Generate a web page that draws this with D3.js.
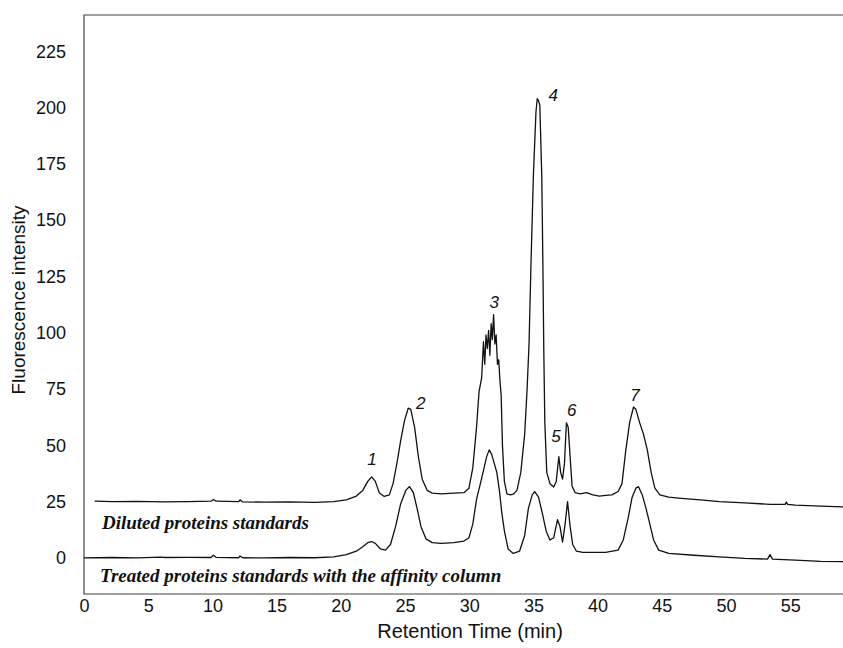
<!DOCTYPE html>
<html>
<head>
<meta charset="utf-8">
<script src="https://cdn.jsdelivr.net/npm/d3@7"></script>
<style>
  html, body { margin: 0; padding: 0; background: #fff; }
  svg { display: block; }
</style>
</head>
<body>
<svg id="chart" width="843" height="648"></svg>
<script>
// ---- data ----
const xTicks = [0, 5, 10, 15, 20, 25, 30, 35, 40, 45, 50, 55];
const yTicks = [0, 25, 50, 75, 100, 125, 150, 175, 200, 225];

// Diluted proteins standards (upper trace): retention time (min) and fluorescence
const dilutedTime = [0.83, 2.2, 4.17, 6.14, 8.11, 9.89, 10.08, 10.28, 12.05, 12.15, 12.35, 14.02, 15.99, 17.96, 19.44, 20.43, 21.21, 21.71, 22.1, 22.4, 22.69, 22.99, 23.38, 23.78, 24.07, 24.37, 24.66, 24.96, 25.25, 25.45, 25.75, 26.04, 26.34, 26.73, 27.12, 27.81, 28.8, 29.59, 29.98, 30.28, 30.57, 30.77, 30.97, 31.11, 31.21, 31.31, 31.41, 31.51, 31.61, 31.71, 31.8, 31.9, 32.0, 32.1, 32.2, 32.3, 32.39, 32.49, 32.59, 32.74, 32.94, 33.2, 33.43, 33.72, 34.02, 34.32, 34.51, 34.66, 34.81, 35.0, 35.2, 35.3, 35.4, 35.5, 35.65, 35.74, 35.81, 35.89, 36.04, 36.29, 36.58, 36.78, 36.98, 37.12, 37.27, 37.42, 37.57, 37.71, 37.86, 38.01, 38.25, 38.65, 39.14, 39.63, 40.13, 40.62, 41.11, 41.6, 41.9, 42.2, 42.49, 42.79, 42.98, 43.28, 43.57, 43.87, 44.17, 44.46, 44.85, 45.54, 46.53, 48.01, 49.48, 51.46, 53.43, 54.6, 54.7, 54.8, 55.4, 57.36, 59.14];
const dilutedValue = [25.2, 25.0, 25.1, 24.9, 25.0, 25.2, 26.0, 25.2, 25.0, 25.8, 24.9, 24.8, 24.9, 24.7, 25.0, 25.8, 27.5, 30, 34, 36, 34, 29, 27.3, 28, 33, 42, 52, 61, 66.5, 66, 58, 45, 35, 30, 28.8, 28.5, 28.8, 29, 31, 40, 58, 74, 80, 96, 86, 99, 93, 101, 90, 104, 97, 108, 95, 99, 86, 88, 79, 72, 50, 34, 28.5, 28, 28.3, 30, 38, 55, 75, 95, 130, 170, 198, 204, 203, 201, 170, 130, 92, 60, 38, 33, 31.5, 34, 45, 38, 35, 42, 60, 58, 45, 32, 29, 28.5, 29, 28, 27.5, 27.8, 28, 29.5, 33, 48, 60, 67, 66, 60, 55, 48, 38, 31, 28, 27, 26.5, 25.8, 25, 24.5, 23.8, 23.8, 24.8, 23.8, 23.5, 23, 22.7];

// Treated proteins standards with the affinity column (lower trace)
const treatedTime = [0, 2.2, 4.17, 5.95, 6.34, 8.11, 9.89, 10.08, 10.28, 12.05, 12.15, 12.35, 14.02, 15.99, 17.96, 19.44, 20.43, 21.21, 21.71, 22.1, 22.4, 22.69, 23.09, 23.48, 23.87, 24.27, 24.66, 25.06, 25.35, 25.65, 25.94, 26.24, 26.63, 27.12, 27.81, 28.8, 29.59, 29.98, 30.28, 30.57, 30.87, 31.16, 31.36, 31.56, 31.75, 31.95, 32.15, 32.35, 32.54, 32.74, 33.03, 33.43, 33.92, 34.32, 34.61, 34.91, 35.1, 35.4, 35.69, 35.99, 36.29, 36.58, 36.88, 37.07, 37.27, 37.47, 37.66, 37.86, 38.06, 38.35, 38.85, 39.63, 40.62, 41.6, 42.0, 42.39, 42.69, 42.98, 43.18, 43.48, 43.77, 44.07, 44.36, 44.76, 45.54, 47.51, 49.48, 51.46, 53.23, 53.43, 53.62, 55.4, 57.36, 59.14];
const treatedValue = [0, 0.2, 0, 0.4, 0.2, 0.3, 0.2, 1.2, 0.3, 0.1, 0.9, 0.1, 0, 0.2, 0.1, 0.5, 1.5, 3, 5, 6.8, 7.3, 6.5, 4, 3.5, 6, 14, 24, 30, 31.7, 29, 22, 14, 8.5, 6.8, 6.5, 6.8, 7.5, 9, 15, 26, 33, 40, 45, 48, 46, 42, 38, 30, 20, 12, 4, 2, 3, 10, 22, 28, 29.5, 27, 20, 12, 8, 9, 17, 14, 7, 15, 25, 14, 6, 3, 2.5, 2.5, 2.5, 3.5, 8, 18, 27, 31, 31.7, 28, 22, 15, 8, 3.5, 2, 1.2, 0.5, -0.2, -0.5, 1.5, -0.5, -1, -1.5, -1.6];

// Peak numbers and where they sit (time, intensity)
const peakNames = ["1", "2", "3", "4", "5", "6", "7"];
const peakLabelTime = [22.42, 26.22, 31.95, 36.55, 36.76, 37.98, 42.91];
const peakLabelValue = [43.8, 68.7, 113.5, 205.5, 54.2, 65.7, 72.4];

const seriesNames = ["Diluted proteins standards", "Treated proteins standards with the affinity column"];
const seriesLabelTime = [1.4, 1.25];
const seriesLabelValue = [13.0, -10.8];

(function () {
  const svg = d3.select("#chart");
  const plotLeft = 84, plotTop = 15, plotBottom = 594, plotRight = 854.4;
  const x = d3.scaleLinear().domain([0, 60]).range([plotLeft, plotRight]);
  const y = d3.scaleLinear().domain([-16, 241.1]).range([plotBottom, plotTop]);

  const sans = "'Liberation Sans', Arial, Helvetica, sans-serif";
  const serif = "'Liberation Serif', 'Times New Roman', Times, serif";

  // frame
  svg.append("path")
    .attr("d", `M${x(60)},${plotTop}H${plotLeft}V${plotBottom}H${x(60)}`)
    .attr("fill", "none").attr("stroke", "#444").attr("stroke-width", 1.2);

  // axes (labels only)
  const xAxis = d3.axisBottom(x).tickValues(xTicks).tickSize(0).tickPadding(5).tickFormat(d3.format("d"));
  const gx = svg.append("g").attr("transform", `translate(0,${plotBottom})`).call(xAxis);
  gx.select(".domain").remove();
  gx.selectAll("text").attr("font-family", sans).attr("font-size", 18).attr("fill", "#111");

  const yAxis = d3.axisLeft(y).tickValues(yTicks).tickSize(0).tickPadding(18).tickFormat(d3.format("d"));
  const gy = svg.append("g").attr("transform", `translate(${plotLeft},0)`).call(yAxis);
  gy.select(".domain").remove();
  gy.selectAll("text").attr("font-family", sans).attr("font-size", 18).attr("fill", "#111");

  // axis titles
  svg.append("text").attr("x", 470).attr("y", 638).attr("text-anchor", "middle")
    .attr("font-family", sans).attr("font-size", 20).attr("fill", "#111")
    .text("Retention Time (min)");
  svg.append("text").attr("transform", "translate(25,300) rotate(-90)").attr("text-anchor", "middle")
    .attr("font-family", sans).attr("font-size", 19).attr("fill", "#111")
    .text("Fluorescence intensity");

  // traces
  const line = d3.line().x(d => x(d[0])).y(d => y(d[1])).curve(d3.curveLinear);
  const diluted = dilutedTime.map((t, i) => [t, dilutedValue[i]]);
  const treated = treatedTime.map((t, i) => [t, treatedValue[i]]);
  [diluted, treated].forEach(data => {
    svg.append("path").datum(data).attr("d", line)
      .attr("fill", "none").attr("stroke", "#111").attr("stroke-width", 1.3)
      .attr("stroke-linejoin", "round");
  });

  // peak numbers
  svg.append("g").selectAll("text").data(peakNames).join("text")
    .attr("x", (d, i) => x(peakLabelTime[i]))
    .attr("y", (d, i) => y(peakLabelValue[i]))
    .attr("dy", "0.35em").attr("text-anchor", "middle")
    .attr("font-family", sans).attr("font-style", "italic").attr("font-size", 17).attr("fill", "#111")
    .text(d => d);

  // series labels
  svg.append("g").selectAll("text").data(seriesNames).join("text")
    .attr("x", (d, i) => x(seriesLabelTime[i]))
    .attr("y", (d, i) => y(seriesLabelValue[i]))
    .attr("font-family", serif).attr("font-style", "italic").attr("font-weight", "bold")
    .attr("font-size", 19).attr("fill", "#111")
    .text(d => d);
})();
</script>
</body>
</html>
